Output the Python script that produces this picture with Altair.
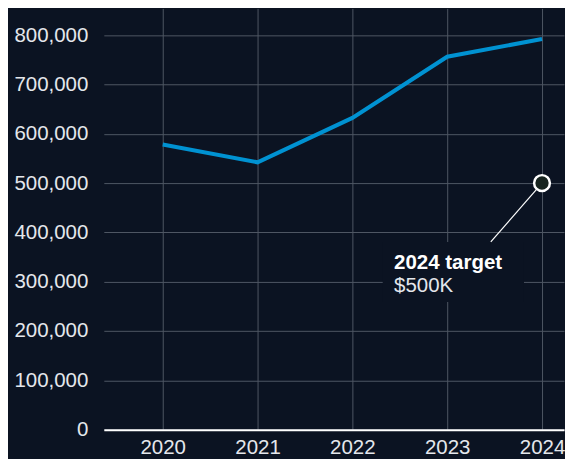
import altair as alt
import pandas as pd

years = [2020, 2021, 2022, 2023, 2024]
revenue = [578000, 542000, 632000, 756000, 792000]

target_year = [2024]
target_value = [500000]
target_title = "2024 target"
target_sub = "$500K"

y_ticks = [0, 100000, 200000, 300000, 400000, 500000, 600000, 700000, 800000]

BG = "#0b1322"
GRID = "#4e5663"
LINE = "#0092d2"
TXT = "#e4e7ec"

df = pd.DataFrame({"year": years, "revenue": revenue})
tgt = pd.DataFrame({"year": target_year, "revenue": target_value})

# annotation geometry (data units)
lead = pd.DataFrame({"year": [2024.0], "revenue": [500000], "x2": [2023.46], "y2": [380500]})
mask = pd.DataFrame({"year": [2022.32], "x2": [2023.81], "revenue": [259000], "y2": [380500]})
label = pd.DataFrame({"year": [2022.44], "revenue": [325800], "r2": [279300],
                      "t1": [target_title], "t2": [target_sub]})

xscale = alt.Scale(domain=[2019.379, 2024.232], nice=False, zero=False)
yscale = alt.Scale(domain=[0, 854000], nice=False)

xaxis = alt.Axis(values=years, format="d", ticks=False, grid=True,
                 gridColor=GRID, gridWidth=1, domain=True,
                 domainColor="#ffffff", domainWidth=2,
                 labelPadding=8, labelFontSize=20.5, labelColor=TXT,
                 labelFont="Liberation Sans")
yaxis = alt.Axis(values=y_ticks, format=",d", ticks=False, grid=True,
                 gridColor=GRID, gridWidth=1, domain=False,
                 labelPadding=16, labelFontSize=20.5, labelColor=TXT,
                 labelFont="Liberation Sans", minExtent=96, maxExtent=96)


def X(field="year"):
    return alt.X(f"{field}:Q", scale=xscale, axis=xaxis, title=None)


def Y(field="revenue"):
    return alt.Y(f"{field}:Q", scale=yscale, axis=yaxis, title=None)


line = alt.Chart(df).mark_line(color=LINE, strokeWidth=4, strokeCap="butt").encode(x=X(), y=Y())

mask_rect = alt.Chart(mask).mark_rect(color=BG).encode(
    x=X(), x2="x2:Q", y=Y(), y2="y2:Q")

rule = alt.Chart(lead).mark_rule(color="#ffffff", strokeWidth=1.2).encode(
    x=X(), x2="x2:Q", y=Y(), y2="y2:Q")

point = alt.Chart(tgt).mark_point(shape="circle", filled=True, size=250,
                                  fill="#17241f", stroke="#ffffff",
                                  strokeWidth=2.5, opacity=1).encode(x=X(), y=Y())

t1 = alt.Chart(label).mark_text(align="left", baseline="alphabetic", fontSize=20.5,
                                fontWeight="bold", color="#ffffff",
                                font="Liberation Sans").encode(
    x=X(), y=Y(), text="t1:N")
t2 = alt.Chart(label).mark_text(align="left", baseline="alphabetic", fontSize=20.5,
                                color=TXT, font="Liberation Sans").encode(
    x=X(), y=Y("r2"), text="t2:N")

chart = alt.layer(line, mask_rect, rule, point, t1, t2).properties(
    width=461, height=422, background=BG,
    padding={"left": 0, "right": 0, "top": 0, "bottom": 0}
).configure_view(stroke=None)

chart.save("out.html", embed_options={"renderer": "svg", "actions": False})
